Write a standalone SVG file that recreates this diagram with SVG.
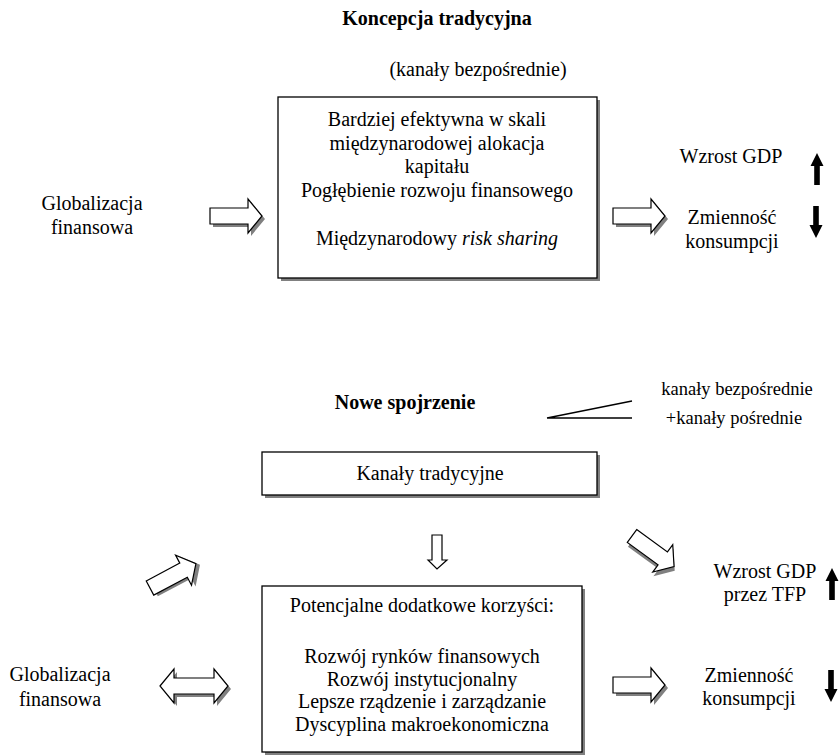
<svg xmlns="http://www.w3.org/2000/svg" xmlns:xlink="http://www.w3.org/1999/xlink" width="840" height="755" viewBox="0 0 840 755">
<style>
text{font-family:"Liberation Serif","Times New Roman",serif;font-size:20px;fill:#000;text-anchor:middle}
.b{font-weight:bold}
.sm{font-size:18.5px}
.box{fill:#fff;stroke:#000;stroke-width:1.3}
.sh{fill:#808080;stroke:none}
.blk{fill:#fff;stroke:#000;stroke-width:1.2}
.solid{fill:#000;stroke:none}
.ln{stroke:#000;stroke-width:1.3;fill:none}
</style>
<defs>
<path id="ar" d="M0,-8 L38,-8 L38,-17 L52,0 L38,17 L38,8 L0,8 Z"/>
<path id="dar" d="M0,0 L14,-17 L14,-8 L54,-8 L54,-17 L68,0 L54,17 L54,8 L14,8 L14,17 Z"/>
<path id="up" d="M-2.8,0 L-2.8,-19 L-6.5,-19 L0,-32 L6.5,-19 L2.8,-19 L2.8,0 Z"/>
</defs>

<g id="title1"><text class="b" x="437" y="25">Koncepcja tradycyjna</text></g>
<g id="sub1"><text x="478" y="76">(kanały bezpośrednie)</text></g>

<g id="box1">
<rect class="sh" x="281" y="100" width="319" height="181"/>
<rect class="box" x="278" y="97" width="319" height="181"/>
<text x="437" y="126">Bardziej efektywna w skali</text>
<text x="437" y="150">międzynarodowej alokacja</text>
<text x="437" y="173">kapitału</text>
<text x="437" y="197">Pogłębienie rozwoju finansowego</text>
<text x="437" y="245">Międzynarodowy <tspan font-style="italic">risk sharing</tspan></text>
</g>

<g id="glob1"><text x="92" y="210">Globalizacja</text><text x="92" y="234">finansowa</text></g>

<g id="out1">
<text x="731" y="163">Wzrost GDP</text>
<text x="732" y="224">Zmienność</text>
<text x="732" y="248">konsumpcji</text>
</g>

<g id="title2"><text class="b" x="405" y="409">Nowe spojrzenie</text></g>
<g id="legend2">
<text class="sm" x="737" y="395">kanały bezpośrednie</text>
<text class="sm" x="734" y="424">+kanały pośrednie</text>
</g>

<g id="box2">
<rect class="sh" x="265" y="455" width="335" height="43"/>
<rect class="box" x="262" y="452" width="335" height="43"/>
<text x="430" y="480">Kanały tradycyjne</text>
</g>

<g id="box3">
<rect class="sh" x="265" y="589" width="320" height="166"/>
<rect class="box" x="262" y="586" width="320" height="166"/>
<text x="422" y="612">Potencjalne dodatkowe korzyści:</text>
<text x="422" y="663">Rozwój rynków finansowych</text>
<text x="422" y="686">Rozwój instytucjonalny</text>
<text x="422" y="708">Lepsze rządzenie i zarządzanie</text>
<text x="422" y="731">Dyscyplina makroekonomiczna</text>
</g>

<g id="glob2"><text x="60" y="681">Globalizacja</text><text x="60" y="706">finansowa</text></g>

<g id="out2">
<text x="765" y="578">Wzrost GDP</text>
<text x="765" y="601">przez TFP</text>
<text x="749" y="682">Zmienność</text>
<text x="749" y="705">konsumpcji</text>
</g>

<g id="connectors">
<g transform="translate(210,216)"><use xlink:href="#ar" class="sh" transform="translate(3,3)"/><use xlink:href="#ar" class="blk"/></g>
<g transform="translate(613,216)"><use xlink:href="#ar" class="sh" transform="translate(3,3)"/><use xlink:href="#ar" class="blk"/></g>
<use xlink:href="#up" class="solid" transform="translate(817,185)"/>
<use xlink:href="#up" class="solid" transform="translate(816,206) rotate(180)"/>
<path class="ln" d="M547,418 L632,401 M547,418 L632,418"/>
<path class="blk" d="M432,535 L442,535 L442,560 L447,560 L437,569 L428,560 L432,560 Z"/>
<g transform="translate(150,588) rotate(-28)"><use xlink:href="#ar" class="sh" transform="translate(3,3)"/><use xlink:href="#ar" class="blk"/></g>
<g transform="translate(632,536) rotate(36)"><use xlink:href="#ar" class="sh" transform="translate(3,3)"/><use xlink:href="#ar" class="blk"/></g>
<g transform="translate(160,686)"><use xlink:href="#dar" class="sh" transform="translate(3,3)"/><use xlink:href="#dar" class="blk"/></g>
<g transform="translate(613,685)"><use xlink:href="#ar" class="sh" transform="translate(3,3)"/><use xlink:href="#ar" class="blk"/></g>
<use xlink:href="#up" class="solid" transform="translate(832,600)"/>
<use xlink:href="#up" class="solid" transform="translate(831,670) rotate(180)"/>
</g>
</svg>
